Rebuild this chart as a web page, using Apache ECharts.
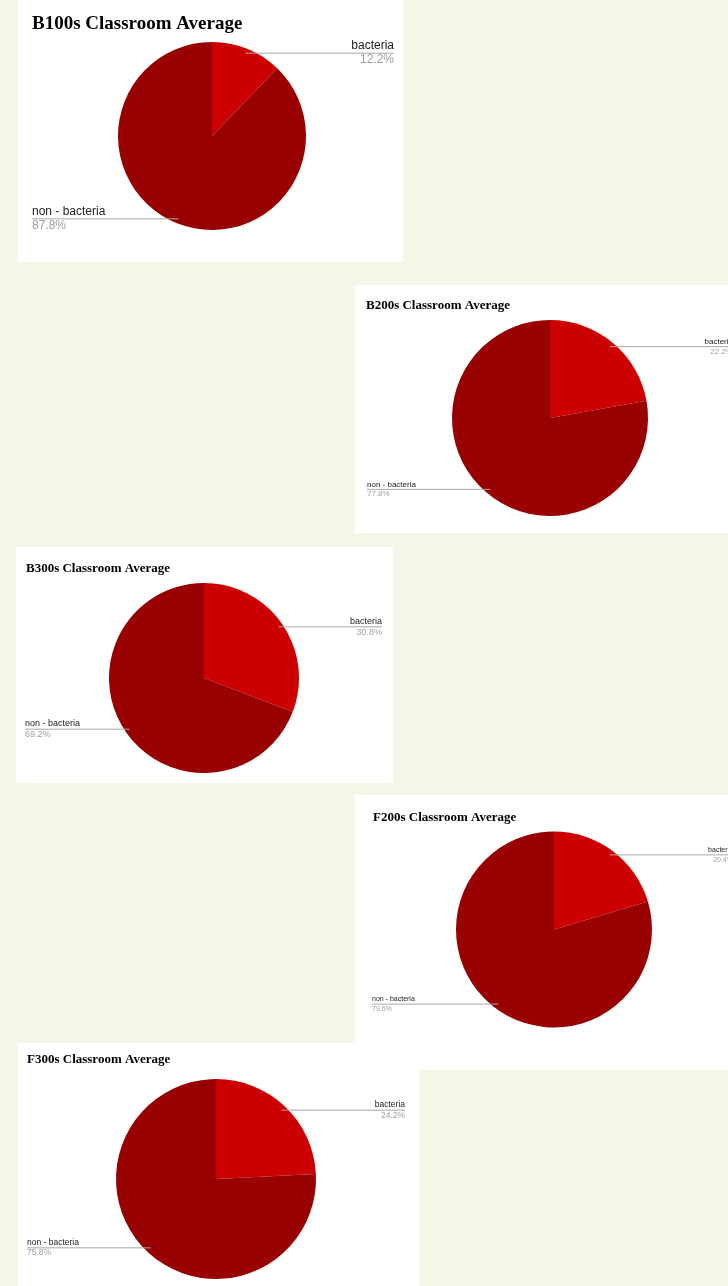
<!DOCTYPE html>
<html>
<head>
<meta charset="utf-8">
<title>Classroom Average</title>
<script src="https://cdn.jsdelivr.net/npm/echarts@6/dist/echarts.min.js"></script>
<style>
  html, body {
    margin: 0;
    padding: 0;
    width: 728px;
    height: 1286px;
    overflow: hidden;
    background: #f5f5e8;
  }
  body { position: relative; }
  .panel { position: absolute; background: #ffffff; }
</style>
</head>
<body>
<div id="p1" class="panel"></div>
<div id="p2" class="panel"></div>
<div id="p3" class="panel"></div>
<div id="p4" class="panel"></div>
<div id="p5" class="panel"></div>

<script>
// data
const categories = ['bacteria', 'non - bacteria']
const titles = [
  'B100s Classroom Average',
  'B200s Classroom Average',
  'B300s Classroom Average',
  'F200s Classroom Average',
  'F300s Classroom Average'
]
const b100s = [12.2, 87.8]
const b200s = [22.2, 77.8]
const b300s = [30.8, 69.2]
const f200s = [20.4, 79.6]
const f300s = [24.2, 75.8]

const sliceColors = ['#cc0000', '#990000']

// where each screenshot-like card sits on the page
const panels = [
  { id: 'p1', title: titles[0], values: b100s, box: [18, 0, 385, 262],
    titleLeft: 14, titleTop: 15, titleSize: 19,
    cx: 194, cy: 136, r: 94, edgeL: 14, edgeR: 9, fontSize: 12, lineHeight: 14 },
  { id: 'p2', title: titles[1], values: b200s, box: [355, 285, 390, 248],
    titleLeft: 11, titleTop: 14, titleSize: 13,
    cx: 195, cy: 133, r: 98, edgeL: 12, edgeR: 12, fontSize: 8, lineHeight: 9.5 },
  { id: 'p3', title: titles[2], values: b300s, box: [16, 547, 377, 236],
    titleLeft: 10, titleTop: 15.5, titleSize: 13,
    cx: 188, cy: 131, r: 95, edgeL: 9, edgeR: 11, fontSize: 9, lineHeight: 11 },
  { id: 'p4', title: titles[3], values: f200s, box: [355, 795, 390, 275],
    titleLeft: 18, titleTop: 16, titleSize: 13,
    cx: 199, cy: 134.5, r: 98, edgeL: 17, edgeR: 12, fontSize: 7, lineHeight: 9.5 },
  { id: 'p5', title: titles[4], values: f300s, box: [18, 1043, 401, 250],
    titleLeft: 9, titleTop: 10.5, titleSize: 13,
    cx: 198, cy: 136, r: 100, edgeL: 9, edgeR: 14, fontSize: 8.5, lineHeight: 10.5 }
]

function initChart(p) {
  const el = document.getElementById(p.id)
  el.style.left = p.box[0] + 'px'
  el.style.top = p.box[1] + 'px'
  el.style.width = p.box[2] + 'px'
  el.style.height = p.box[3] + 'px'

  const pieBase = {
    type: 'pie',
    left: p.edgeL,
    right: p.edgeR,
    top: 0,
    bottom: 0,
    center: [p.cx - p.edgeL, p.cy],
    radius: p.r,
    startAngle: 90,
    clockwise: true,
    silent: true
  }

  const chart = echarts.init(el, null, { renderer: 'canvas' })
  chart.setOption({
    animation: false,
    title: {
      text: p.title,
      left: p.titleLeft,
      top: p.titleTop,
      padding: 0,
      textStyle: {
        fontFamily: 'Liberation Serif',
        fontWeight: 'bold',
        fontSize: p.titleSize,
        color: '#000'
      }
    },
    series: [
      // the slices
      Object.assign({}, pieBase, {
        z: 2,
        data: categories.map((name, i) => ({
          name: name,
          value: p.values[i],
          itemStyle: { color: sliceColors[i] }
        })),
        label: { show: false },
        labelLine: { show: false }
      }),
      // same pie, invisible, only to put labels + leader lines above the slices
      Object.assign({}, pieBase, {
        z: 3,
        data: categories.map((name, i) => ({
          name: name,
          value: p.values[i],
          itemStyle: { color: 'rgba(0,0,0,0)' }
        })),
        label: {
          show: true,
          position: 'outside',
          alignTo: 'edge',
          edgeDistance: 0,
          formatter: '{n|{b}}\n{p|{c}%}',
          rich: {
            n: {
              fontFamily: 'Liberation Sans',
              fontSize: p.fontSize,
              lineHeight: p.lineHeight,
              color: '#222'
            },
            p: {
              fontFamily: 'Liberation Sans',
              fontSize: p.fontSize,
              lineHeight: p.lineHeight,
              color: '#9e9e9e'
            }
          }
        },
        labelLine: {
          show: true,
          length: 0,
          length2: 10,
          lineStyle: { color: '#a8a8a8', width: 1 }
        },
        // leader line starts a bit inside the slice and runs under the text
        labelLayout: function (params) {
          const pts = params.labelLinePoints
          if (!pts) return {}
          const a = pts[0]
          const ix = p.cx + (a[0] - p.cx) * 0.95
          const iy = p.cy + (a[1] - p.cy) * 0.95
          const rect = params.labelRect
          const isRight = a[0] > p.cx
          const endX = isRight ? rect.x + rect.width : rect.x
          return {
            y: iy,
            labelLinePoints: [[ix, iy], [ix, iy], [endX, iy]]
          }
        }
      })
    ]
  })
  return chart
}

panels.forEach(initChart)
</script>
</body>
</html>
